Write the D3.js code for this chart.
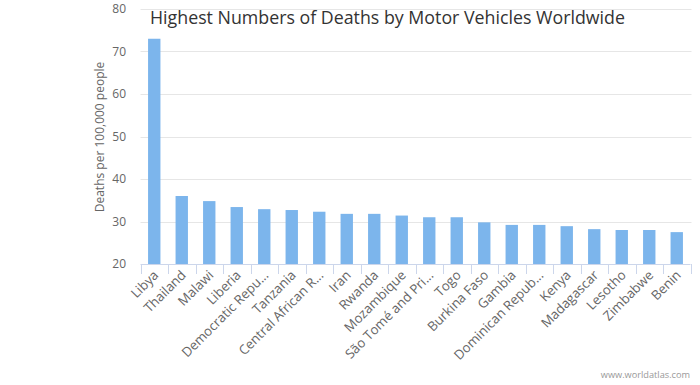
<!DOCTYPE html>
<html><head><meta charset="utf-8">
<script src="https://cdnjs.cloudflare.com/ajax/libs/d3/7.8.5/d3.min.js"></script>
<style>body{margin:0;background:#fff}svg{display:block}text{font-family:"Open Sans","DejaVu Sans",sans-serif}</style>
</head><body><svg id="c" width="700" height="385"></svg>
<script>
const categories = ["Libya","Thailand","Malawi","Liberia","Democratic Repu...","Tanzania","Central African R...","Iran","Rwanda","Mozambique","São Tomé and Pri...","Togo","Burkina Faso","Gambia","Dominican Repub...","Kenya","Madagascar","Lesotho","Zimbabwe","Benin"];
const deaths = [73.0,36.0,34.8,33.4,32.9,32.7,32.3,31.8,31.8,31.4,31.0,31.0,29.8,29.2,29.2,28.9,28.2,28.0,28.0,27.5];
const yTicks = [20,30,40,50,60,70,80];

const svg = d3.select("#c");
const m = {l:140.5, r:690.5, t:9, b:264};
const x = d3.scaleBand().domain(categories).range([m.l, m.r]).paddingInner(0.55).paddingOuter(0.275);
const xb = d3.scaleBand().domain(categories).range([m.l, m.r]);
const y = d3.scaleLinear().domain([20,80]).range([m.b, m.t]);

// gridlines
svg.append("g").selectAll("line").data(yTicks.filter(d=>d>20)).join("line")
  .attr("x1", m.l).attr("x2", m.r+1).attr("y1", d=>Math.round(y(d))+0.5).attr("y2", d=>Math.round(y(d))+0.5)
  .attr("stroke","#e6e6e6").attr("stroke-width",1);

// y labels
svg.append("g").selectAll("text").data(yTicks).join("text")
  .attr("x", 126).attr("y", d=>y(d)+4).attr("text-anchor","end")
  .attr("font-size",12).attr("fill","#666").text(d=>d);

// bars
svg.append("g").selectAll("rect").data(deaths).join("rect")
  .attr("x",(d,i)=>x(categories[i])).attr("width",x.bandwidth())
  .attr("y",d=>y(d)).attr("height",d=>m.b-y(d)).attr("fill","#7cb5ec");

// x axis line and ticks
const ax = svg.append("g");
ax.append("line").attr("x1",m.l).attr("x2",m.r).attr("y1",m.b+0.5).attr("y2",m.b+0.5).attr("stroke","#ccd6eb");
const bounds = categories.map(c=>xb(c)).concat([m.r]);
ax.selectAll("line.t").data(bounds).join("line").attr("class","t")
  .attr("x1",d=>Math.round(d)+0.5).attr("x2",d=>Math.round(d)+0.5)
  .attr("y1",m.b).attr("y2",m.b+10).attr("stroke","#ccd6eb");

// x labels
svg.append("g").selectAll("text").data(categories).join("text")
  .attr("transform",d=>`translate(${xb(d)+xb.bandwidth()/2+5},${m.b+12}) rotate(-45)`)
  .attr("text-anchor","end").attr("font-size",13.2).attr("fill","#666").text(d=>d);

// y title
svg.append("text").attr("transform","translate(104,137) rotate(-90)")
  .attr("text-anchor","middle").attr("font-size",12).attr("fill","#666").text("Deaths per 100,000 people");

// title
svg.append("text").attr("x",150).attr("y",24).attr("font-size",17.8).attr("fill","#333")
  .text("Highest Numbers of Deaths by Motor Vehicles Worldwide");

// credit
svg.append("text").attr("x",690).attr("y",378).attr("text-anchor","end").attr("font-size",9.2).attr("fill","#999")
  .text("www.worldatlas.com");
</script></body></html>
